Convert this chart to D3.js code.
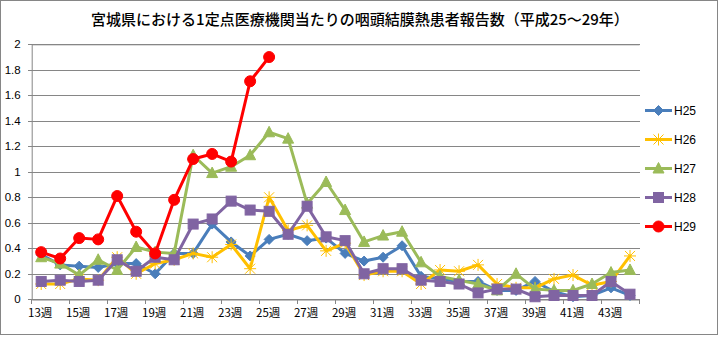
<!DOCTYPE html>
<html>
<head>
<meta charset="utf-8">
<script src="https://cdn.jsdelivr.net/npm/d3@7"></script>
<style>
  html, body { margin: 0; padding: 0; background: #fff; }
  svg { display: block; }
</style>
</head>
<body>
<svg id="chart" width="719" height="337"></svg>
<script>
// Weeks 13–44 and per-year reports per sentinel clinic
const weeks = d3.range(13, 45);
const weekLabels = d3.range(13, 45, 2).map(w => w + "週");
const yTicks = d3.range(0, 2.0001, 0.2);

const H25 = [0.35,0.27,0.26,0.25,0.28,0.28,0.20,0.36,0.36,0.59,0.45,0.34,0.47,0.51,0.46,0.48,0.36,0.30,0.33,0.42,0.18,0.16,0.14,0.14,0.07,0.07,0.14,0.06,0.02,0.03,0.09,0.03];
const H26 = [0.12,0.12,0.16,0.15,0.33,0.20,0.28,0.31,0.36,0.33,0.43,0.24,0.80,0.54,0.58,0.38,0.44,0.19,0.22,0.22,0.12,0.23,0.22,0.27,0.12,0.09,0.09,0.16,0.19,0.11,0.14,0.34];
const H27 = [0.33,0.28,0.19,0.31,0.23,0.41,0.37,0.36,1.13,0.99,1.04,1.13,1.31,1.26,0.75,0.92,0.70,0.45,0.50,0.53,0.29,0.18,0.15,0.12,0.07,0.20,0.08,0.07,0.07,0.12,0.21,0.23];
const H28 = [0.14,0.15,0.14,0.15,0.31,0.22,0.33,0.31,0.59,0.63,0.77,0.70,0.69,0.51,0.73,0.49,0.46,0.20,0.24,0.24,0.15,0.14,0.12,0.05,0.08,0.08,0.02,0.03,0.03,0.03,0.14,0.04];
const H29 = [0.37,0.32,0.48,0.47,0.81,0.53,0.36,0.78,1.10,1.14,1.08,1.71,1.90];

const seriesNames = ["H25", "H26", "H27", "H28", "H29"];
const seriesValues = [H25, H26, H27, H28, H29];
const seriesColors = ["#4A7EBB", "#FFC000", "#9BBB59", "#8064A2", "#FF0000"];
const seriesMarkers = ["diamond", "star", "triangle", "square", "circle"];

const svg = d3.select("#chart");
const W = 719, H = 337;
const plot = { left: 31.7, right: 639.5, top: 44.3, bottom: 299.3 };

// outer frame
svg.append("rect")
  .attr("x", 0.5).attr("y", 0.5).attr("width", W - 2).attr("height", H - 3)
  .attr("fill", "#fff").attr("stroke", "#868686").attr("stroke-width", 1);

// title
svg.append("text")
  .attr("x", 360).attr("y", 25)
  .attr("text-anchor", "middle")
  .attr("font-family", "'Noto Sans CJK JP', sans-serif")
  .attr("font-size", 15).attr("font-weight", 500)
  .attr("fill", "#000")
  .text("宮城県における1定点医療機関当たりの咽頭結膜熱患者報告数（平成25～29年）");

const x = d3.scaleBand().domain(weeks).range([plot.left, plot.right]).padding(0);
const y = d3.scaleLinear().domain([0, 2]).range([plot.bottom, plot.top]);

// horizontal gridlines with short outward ticks
const yAxis = d3.axisLeft(y)
  .tickValues(yTicks)
  .tickSize(-(plot.right - plot.left))
  .tickFormat(d => d3.format("~g")(+d.toFixed(1)));
const gy = svg.append("g").attr("transform", `translate(${plot.left},0)`).call(yAxis);
gy.select(".domain").attr("stroke", "#868686");
gy.selectAll(".tick line").attr("stroke", "#868686").attr("x1", -4).attr("shape-rendering", "crispEdges");
gy.selectAll(".tick text")
  .attr("x", -11)
  .attr("font-family", "'Liberation Sans', Arial, sans-serif")
  .attr("font-size", 11.5).attr("fill", "#000");

// x axis: labels every other week, tick marks on category boundaries
const xAxis = d3.axisBottom(x)
  .tickValues(d3.range(13, 45, 2))
  .tickSize(0)
  .tickPadding(10)
  .tickFormat((d, i) => weekLabels[i]);
const gx = svg.append("g").attr("transform", `translate(0,${plot.bottom})`).call(xAxis);
gx.select(".domain").attr("stroke", "#868686");
gx.selectAll(".tick text")
  .attr("dx", -1)
  .attr("font-family", "'Noto Sans CJK JP', sans-serif")
  .attr("font-size", 11.5).attr("fill", "#000");

const boundaries = d3.range(13, 45, 2).map(w => x(w)).concat([x(44) + x.bandwidth()]);
svg.append("g").selectAll("line").data(boundaries).join("line")
  .attr("x1", d => d).attr("x2", d => d)
  .attr("y1", plot.bottom).attr("y2", plot.bottom + 5)
  .attr("stroke", "#868686").attr("shape-rendering", "crispEdges");

// marker drawing
function drawMarker(g, type, color) {
  switch (type) {
    case "diamond":
      g.append("path").attr("d", "M0,-5L5,0L0,5L-5,0Z").attr("fill", color).attr("stroke", color);
      break;
    case "square":
      g.append("rect").attr("x", -5).attr("y", -5).attr("width", 10).attr("height", 10)
        .attr("fill", color).attr("stroke", color);
      break;
    case "triangle":
      g.append("path").attr("d", "M0,-6L5.5,4.5L-5.5,4.5Z").attr("fill", color).attr("stroke", color);
      break;
    case "circle":
      g.append("circle").attr("r", 5.5).attr("fill", color).attr("stroke", color);
      break;
    case "star":
      g.append("path").attr("d", "M0,-6V6M-5,-5L5,5M5,-5L-5,5M-6,0H6")
        .attr("fill", "none").attr("stroke", color).attr("stroke-width", 1);
      break;
  }
}

const line = d3.line().x((d, i) => x(weeks[i]) + x.bandwidth() / 2).y(d => y(d));

seriesValues.forEach((vals, si) => {
  const color = seriesColors[si];
  const g = svg.append("g");
  g.append("path").datum(vals)
    .attr("d", line)
    .attr("fill", "none").attr("stroke", color)
    .attr("stroke-width", 3).attr("stroke-linejoin", "round").attr("stroke-linecap", "round");
  vals.forEach((v, i) => {
    const m = g.append("g").attr("transform", `translate(${x(weeks[i]) + x.bandwidth() / 2},${y(v)})`);
    drawMarker(m, seriesMarkers[si], color);
  });
});

// legend
const legendY = d3.scaleBand().domain(seriesNames).range([96, 241]);
const lg = svg.append("g");
seriesNames.forEach((name, si) => {
  const cy = legendY(name) + legendY.bandwidth() / 2;
  const color = seriesColors[si];
  lg.append("line").attr("x1", 645).attr("x2", 672).attr("y1", cy).attr("y2", cy)
    .attr("stroke", color).attr("stroke-width", 3);
  drawMarker(lg.append("g").attr("transform", `translate(658.5,${cy})`), seriesMarkers[si], color);
  lg.append("text").attr("x", 674).attr("y", cy + 4.5)
    .attr("font-family", "'Liberation Sans', Arial, sans-serif")
    .attr("font-size", 12).attr("fill", "#000")
    .text(name);
});
</script>
</body>
</html>
